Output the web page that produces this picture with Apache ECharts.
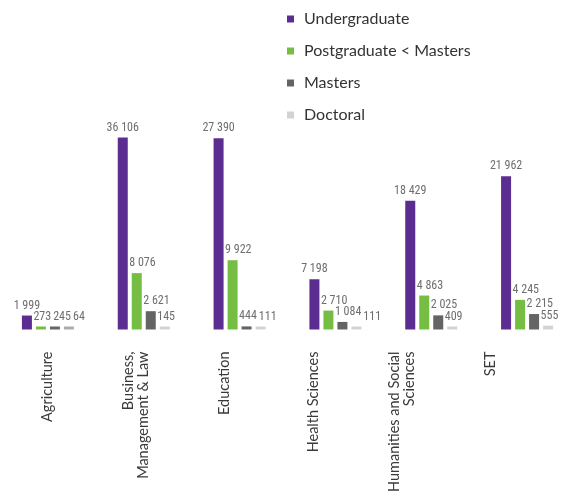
<!DOCTYPE html>
<html><head><meta charset="utf-8">
<script src="https://cdn.jsdelivr.net/npm/echarts@6/dist/echarts.min.js"></script>
<style>html,body{margin:0;padding:0;background:#fff}#c{width:575px;height:497px}</style>
</head><body><div id="c"></div>
<script>
const categories = ['Agriculture', 'Business,\nManagement & Law', 'Education', 'Health Sciences', 'Humanities and Social\nSciences', 'SET'];
const seriesNames = ['Undergraduate', 'Postgraduate < Masters', 'Masters', 'Doctoral'];
const undergraduate = [1999, 36106, 27390, 7198, 18429, 21962];
const postgraduate = [273, 8076, 9922, 2710, 4863, 4245];
const masters = [245, 2621, 444, 1084, 2025, 2215];
const doctoral = [64, 145, 111, 111, 409, 555];

const colors = ['#5c2d91', '#76bd43', '#636466', '#d1d3d4'];
const fmt = v => String(v).replace(/\B(?=(\d{3})+(?!\d))/g, ' ');
const chart = echarts.init(document.getElementById('c'));
const values = [undergraduate, postgraduate, masters, doctoral];
const nS = values.length;
const common = { type: 'bar', barWidth: 10, barGap: '40%', barMinHeight: 3, yAxisIndex: 0 };

// keep value labels from running into the bar / label to their left (shift right)
const placed = {};
function nudge(p) {
  const si = p.seriesIndex - nS, di = p.dataIndex;
  const lr = p.labelRect;
  let left = lr.x;
  if (si > 0) {
    const prevBar = placed[(si - 1) + '_' + di];
    if (prevBar) left = Math.max(left, prevBar.barRight + 1.5);
    for (let k = 0; k < si; k++) {
      const q = placed[k + '_' + di];
      if (!q) continue;
      const t1 = lr.y + 3, b1 = lr.y + lr.height - 3;
      const t2 = q.y + 3, b2 = q.y + q.height - 3;
      if (t1 < b2 && b1 > t2) left = Math.max(left, q.x + q.width + 2);
    }
  }
  placed[si + '_' + di] = { x: left, y: lr.y, width: lr.width, height: lr.height, barRight: p.rect.x + p.rect.width };
  return { dx: left - lr.x };
}

const barSeries = values.map((arr, si) => Object.assign({}, common, {
  name: seriesNames[si],
  xAxisIndex: 0, z: 2,
  itemStyle: { color: colors[si] },
  data: arr.map((v, i) => (si === 3 && i === 0) ? { value: v, itemStyle: { color: '#ababab' } } : v)
}));
const labelSeries = values.map((arr, si) => Object.assign({}, common, {
  name: seriesNames[si] + ' label',
  xAxisIndex: 2, z: 10, silent: true,
  itemStyle: { color: 'rgba(0,0,0,0)' },
  data: arr,
  labelLayout: nudge,
  label: {
    show: true, position: 'top', distance: 4,
    color: '#6e6e6e', fontSize: 12,
    fontFamily: "'Liberation Sans Narrow', 'Roboto Condensed', Roboto, sans-serif",
    formatter: p => fmt(p.value)
  }
}));
chart.setOption({
  animation: false,
  legend: {
    orient: 'vertical', left: 287, top: 11, padding: 0,
    itemWidth: 7, itemHeight: 7, itemGap: 16, icon: 'rect',
    data: seriesNames,
    textStyle: { fontFamily: 'Lato', fontSize: 16, lineHeight: 16, color: '#333', padding: [0, 0, 0, 5] }
  },
  grid: [
    { left: -3, right: -6, top: 137.5, bottom: 167.5 },
    { left: 3, right: 40, top: 137.5, bottom: 167.5 }
  ],
  xAxis: [
    { type: 'category', gridIndex: 0, data: categories,
      axisLine: { show: false }, axisTick: { show: false }, axisLabel: { show: false } },
    { type: 'category', gridIndex: 1, data: categories,
      axisLine: { show: false }, axisTick: { show: false },
      axisLabel: { rotate: 90, margin: 22, interval: 0, fontFamily: 'Lato', fontSize: 14.5, lineHeight: 15, color: '#3a3a3a' } },
    { type: 'category', gridIndex: 0, data: categories, show: false }
  ],
  yAxis: [
    { type: 'value', gridIndex: 0, min: 0, max: 27500, show: false, splitLine: { show: false } },
    { type: 'value', gridIndex: 1, min: 0, max: 27500, show: false, splitLine: { show: false } }
  ],
  series: barSeries.concat(labelSeries)
});
</script></body></html>
